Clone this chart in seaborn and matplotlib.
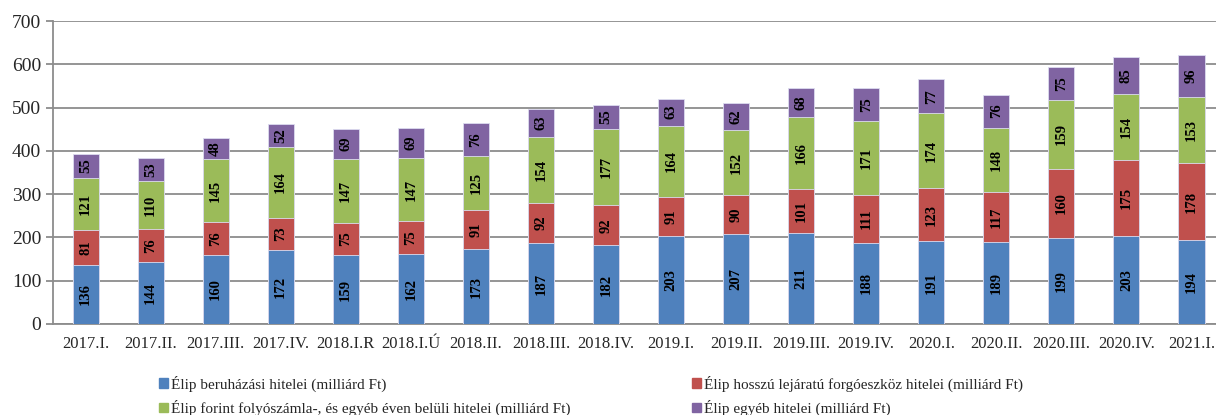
import matplotlib.pyplot as plt
import numpy as np
import pandas as pd
import seaborn as sns
from matplotlib.patches import Patch

quarters = ["2017.I.", "2017.II.", "2017.III.", "2017.IV.", "2018.I.R", "2018.I.Ú",
            "2018.II.", "2018.III.", "2018.IV.", "2019.I.", "2019.II.", "2019.III.",
            "2019.IV.", "2020.I.", "2020.II.", "2020.III.", "2020.IV.", "2021.I."]
beruhazasi = [136, 144, 160, 172, 159, 162, 173, 187, 182, 203, 207, 211, 188, 191, 189, 199, 203, 194]
forgoeszkoz = [81, 76, 76, 73, 75, 75, 91, 92, 92, 91, 90, 101, 111, 123, 117, 160, 175, 178]
folyoszamla = [121, 110, 145, 164, 147, 147, 125, 154, 177, 164, 152, 166, 171, 174, 148, 159, 154, 153]
egyeb = [55, 53, 48, 52, 69, 69, 76, 63, 55, 63, 62, 68, 75, 77, 76, 75, 85, 96]

labels = ["Élip beruházási hitelei (milliárd Ft)",
          "Élip hosszú lejáratú forgóeszköz hitelei (milliárd Ft)",
          "Élip forint folyószámla-, és egyéb éven belüli hitelei (milliárd Ft)",
          "Élip egyéb hitelei (milliárd Ft)"]
colors = ["#4f81bd", "#c0504d", "#9bbb59", "#8064a2"]

sns.set_style("white")
plt.rcParams["font.family"] = ["Liberation Serif", "DejaVu Serif"]

series = [beruhazasi, forgoeszkoz, folyoszamla, egyeb]
cum = np.cumsum(np.array(series), axis=0)

fig = plt.figure(figsize=(12.16, 4.15), dpi=100)
# axes run a little past the right edge, like the original
ax = fig.add_axes([0.0436, 0.2193, 0.963, 0.730])

# stacked bars: draw cumulative totals from top to bottom
for i in range(3, -1, -1):
    df = pd.DataFrame({"q": quarters, "v": cum[i]})
    sns.barplot(data=df, x="q", y="v", color=colors[i], width=0.4, ax=ax,
                saturation=1, edgecolor="#dcdcf0", linewidth=0.6, zorder=3)

for i, s in enumerate(series):
    base = cum[i] - np.array(s)
    for j, v in enumerate(s):
        ax.text(j, base[j] + v / 2, str(v), rotation=90, ha="center", va="center",
                fontsize=10.5, fontweight="bold", color="black", zorder=4)

ax.set_ylim(0, 700)
ax.set_xlim(-0.5, len(quarters) - 0.5)
ax.set_yticks(range(0, 701, 100))
ax.yaxis.grid(True, color="#8c8c8c", linewidth=1.3, zorder=0)
ax.set_axisbelow(True)
ax.set_xlabel("")
ax.set_ylabel("")
for side in ["top", "right"]:
    ax.spines[side].set_visible(False)
for side in ["left", "bottom"]:
    ax.spines[side].set_color("#8c8c8c")
    ax.spines[side].set_linewidth(1.3)

ax.set_xticks(range(len(quarters)))
ax.set_xticklabels(quarters, fontsize=12)
ax.tick_params(axis="x", length=0, pad=9)
ax.set_xticks(np.arange(-0.5, len(quarters), 1), minor=True)
ax.tick_params(axis="x", which="minor", length=5, color="#8c8c8c", width=1.3, direction="out")
ax.tick_params(axis="y", length=5, color="#8c8c8c", width=1.3, labelsize=14, direction="out", left=True)

handles = [Patch(color=colors[k]) for k in [0, 2, 1, 3]]
hl = [labels[k] for k in [0, 2, 1, 3]]
fig.legend(handles, hl, ncol=2, loc="lower left", bbox_to_anchor=(0.1195, -0.036),
           frameon=False, fontsize=11, handlelength=0.6, handleheight=0.6,
           handletextpad=0.15, columnspacing=8.0, labelspacing=0.55)

fig.savefig("out.png", dpi=100)
